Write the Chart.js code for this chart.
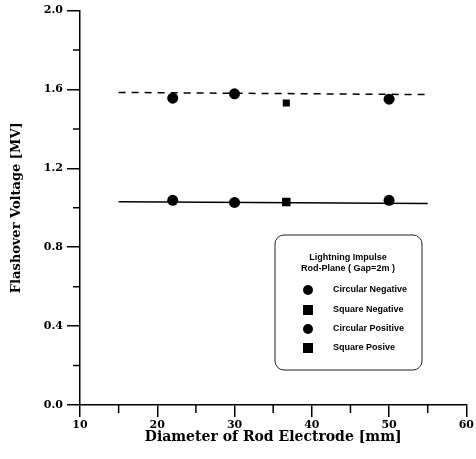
<!DOCTYPE html>
<html>
<head>
<meta charset="utf-8">
<script src="https://cdn.jsdelivr.net/npm/chart.js@4/dist/chart.umd.min.js"></script>
<style>
  html, body { margin: 0; padding: 0; background: #fff; }
  #wrap { width: 476px; height: 459px; }
</style>
</head>
<body>
<div id="wrap"><canvas id="flashover"></canvas></div>
<script>
// rod diameters [mm]
const circDiam = [22, 30, 50];
const squareDiam = [36.7];
// flashover voltage [MV]
const circNegative = [1.556, 1.578, 1.551];
const squareNegative = [1.531];
const circPositive = [1.038, 1.027, 1.038];
const squarePositive = [1.030];
// fitted lines
const fitDiam = [15, 55];
const fitNegative = [1.585, 1.574];
const fitPositive = [1.031, 1.022];

const legendTitle = ["Lightning Impulse", "Rod-Plane ( Gap=2m )"];
const seriesNames = ["Circular Negative", "Square Negative", "Circular Positive", "Square Posive"];

const xMinorTicks = [15, 25, 35, 45, 55];
const yMinorTicks = [0.2, 0.6, 1.0, 1.4, 1.8];

function pts(xs, ys) {
    return xs.map((x, i) => ({ x: x, y: ys[i] }));
}

const serif = "'DejaVu Serif', 'Liberation Serif', serif";

// minor ticks on both axes
const minorTicks = {
    id: "minorTicks",
    afterDraw(chart) {
        const ctx = chart.ctx;
        const xs = chart.scales.x, ys = chart.scales.y;
        ctx.save();
        ctx.strokeStyle = "#000";
        ctx.lineWidth = 1.5;
        ctx.beginPath();
        xMinorTicks.forEach(v => {
            const px = xs.getPixelForValue(v);
            ctx.moveTo(px, xs.top);
            ctx.lineTo(px, xs.top + 8);
        });
        yMinorTicks.forEach(v => {
            const py = ys.getPixelForValue(v);
            ctx.moveTo(ys.right - 7, py);
            ctx.lineTo(ys.right, py);
        });
        ctx.stroke();
        ctx.restore();
    }
};

// boxed legend in lower right
const boxLegend = {
    id: "boxLegend",
    afterDraw(chart) {
        const ctx = chart.ctx;
        const bx = 275, by = 235, bw = 147, bh = 135;
        ctx.save();
        ctx.strokeStyle = "#222";
        ctx.lineWidth = 1;
        ctx.beginPath();
        ctx.roundRect(bx, by, bw, bh, 9);
        ctx.stroke();
        ctx.fillStyle = "#000";
        ctx.font = "bold 9px 'Liberation Sans Narrow', 'Liberation Sans', sans-serif";
        ctx.textAlign = "center";
        ctx.textBaseline = "middle";
        ctx.fillText(legendTitle[0], 348, 258);
        ctx.fillText(legendTitle[1], 348, 269);
        ctx.textAlign = "left";
        const rowY = [290, 310, 329, 348];
        seriesNames.forEach((name, i) => {
            const y = rowY[i];
            ctx.beginPath();
            if (i % 2 === 0) {
                ctx.arc(308, y, 5, 0, Math.PI * 2);
            } else {
                ctx.rect(303, y - 5, 10, 10);
            }
            ctx.fill();
            ctx.fillText(name, 333, y);
        });
        ctx.restore();
    }
};

const markerStyle = (style, r) => ({
    showLine: false,
    pointStyle: style,
    pointRadius: r,
    pointBackgroundColor: "#000",
    pointBorderColor: "#000",
    pointBorderWidth: 0
});

new Chart(document.getElementById("flashover"), {
    type: "scatter",
    data: {
        datasets: [
            { label: "fit negative", data: pts(fitDiam, fitNegative), showLine: true, borderColor: "#000", borderWidth: 1.5, borderDash: [7, 6], pointRadius: 0 },
            { label: "fit positive", data: pts(fitDiam, fitPositive), showLine: true, borderColor: "#000", borderWidth: 1.5, pointRadius: 0 },
            Object.assign({ label: seriesNames[0], data: pts(circDiam, circNegative) }, markerStyle("circle", 5.5)),
            Object.assign({ label: seriesNames[1], data: pts(squareDiam, squareNegative) }, markerStyle("rect", 5)),
            Object.assign({ label: seriesNames[2], data: pts(circDiam, circPositive) }, markerStyle("circle", 5.5)),
            Object.assign({ label: seriesNames[3], data: pts(squareDiam, squarePositive) }, markerStyle("rect", 6))
        ]
    },
    options: {
        responsive: true,
        maintainAspectRatio: false,
        animation: false,
        layout: { padding: { top: 10, right: 9, left: 0, bottom: 0 } },
        plugins: {
            legend: { display: false },
            tooltip: { enabled: false }
        },
        scales: {
            x: {
                type: "linear",
                min: 10, max: 60,
                border: { display: true, color: "#000", width: 1.5 },
                grid: { drawOnChartArea: false, drawTicks: true, tickLength: 12, color: "#000", lineWidth: 1.5 },
                ticks: { stepSize: 10, color: "#000", padding: 2, maxRotation: 0, font: { family: serif, weight: "bold", size: 11 } },
                title: { display: true, text: "Diameter of Rod Electrode [mm]", color: "#000", padding: { top: 0, bottom: 13 }, font: { family: serif, weight: "bold", size: 14 } },
                afterFit(scale) { scale.height = 54; }
            },
            y: {
                type: "linear",
                min: 0, max: 2.0,
                border: { display: true, color: "#000", width: 1.5 },
                grid: { drawOnChartArea: false, drawTicks: true, tickLength: 13, color: "#000", lineWidth: 1.5 },
                ticks: {
                    stepSize: 0.4, color: "#000", padding: 4,
                    font: { family: serif, weight: "bold", size: 11 },
                    callback: v => v.toFixed(1)
                },
                title: { display: true, text: "Flashover Voltage [MV]", color: "#000", padding: { top: 9, bottom: 4 }, font: { family: serif, weight: "bold", size: 13 } },
                afterFit(scale) { scale.width = 80; }
            }
        }
    },
    plugins: [minorTicks, boxLegend]
});
</script>
</body>
</html>
